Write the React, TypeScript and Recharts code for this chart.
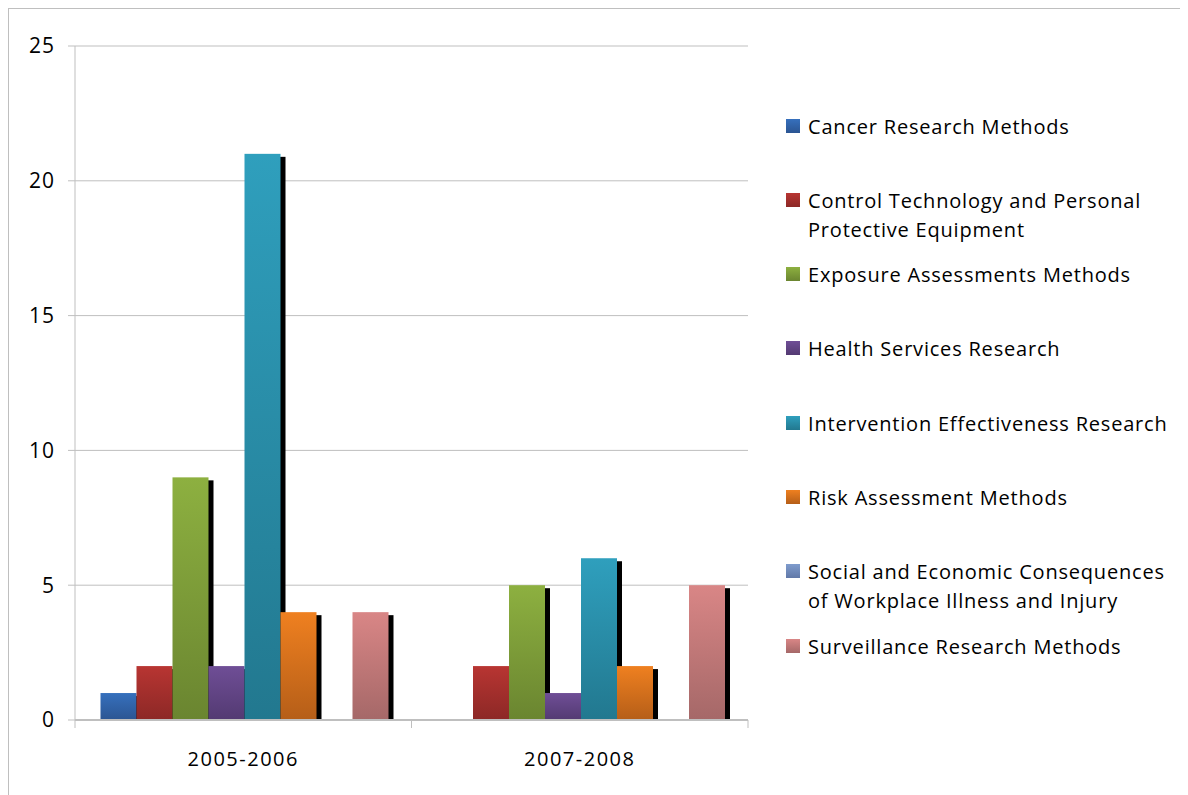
import { BarChart, Bar, XAxis, YAxis, CartesianGrid } from "recharts";

const categories = ["2005-2006", "2007-2008"];

const seriesNames = [
  "Cancer Research Methods",
  "Control Technology and Personal Protective Equipment",
  "Exposure Assessments Methods",
  "Health Services Research",
  "Intervention Effectiveness Research",
  "Risk Assessment Methods",
  "Social and Economic Consequences of Workplace Illness and Injury",
  "Surveillance Research Methods",
];

const cancer = [1, 0];
const control = [2, 2];
const exposure = [9, 5];
const health = [2, 1];
const intervention = [21, 6];
const risk = [4, 2];
const social = [0, 0];
const surveillance = [4, 5];

const yTicks = [0, 5, 10, 15, 20, 25];

// gradient stops, top -> bottom
const colors: [string, string][] = [
  ["#3670bd", "#2b5592"],
  ["#b83532", "#8c2826"],
  ["#8db040", "#6a8530"],
  ["#6f4e96", "#533a72"],
  ["#2f9fbd", "#22788f"],
  ["#ef8020", "#b55e18"],
  ["#7f9ccd", "#6179a8"],
  ["#d98686", "#a56868"],
];

const values = [cancer, control, exposure, health, intervention, risk, social, surveillance];

const data = categories.map((name, i) => {
  const row: Record<string, string | number> = { name };
  seriesNames.forEach((s, j) => {
    row[s] = values[j][i];
  });
  return row;
});

const FONT = "'Open Sans', sans-serif";
const GRID = "#bfbfbf";

function ShadowBar(props: any) {
  const { x, y, width, height, fill } = props;
  if (!height || height <= 0) return null;
  return (
    <g>
      <rect x={x + 5} y={y + 3} width={width} height={Math.max(0, height - 3)} fill="#000" />
      <rect x={x} y={y} width={width} height={height} fill={fill} />
    </g>
  );
}

function CategoryTick(props: any) {
  const { x, y, payload } = props;
  const half = payload?.offset ? payload.offset : 168.5;
  const axisY = y - 30;
  return (
    <g>
      <line x1={x - half} x2={x - half} y1={axisY} y2={axisY + 8} stroke={GRID} />
      <line x1={x + half} x2={x + half} y1={axisY} y2={axisY + 8} stroke={GRID} />
      <text x={x} y={y + 16} textAnchor="middle" fill="#000" fontSize={20} fontFamily={FONT} letterSpacing={1.5}>
        {payload.value}
      </text>
    </g>
  );
}

export default function App() {
  return (
    <div
      style={{
        position: "relative",
        width: 1177,
        height: 800,
        border: `1px solid ${GRID}`,
        background: "#fff",
        fontFamily: FONT,
      }}
    >
      <BarChart
        width={1177}
        height={786}
        data={data}
        margin={{ top: 37, right: 438, left: 0, bottom: 15 }}
        barCategoryGap={25.5}
        barGap={0}
      >
        <defs>
          {colors.map(([top, bottom], i) => (
            <linearGradient key={i} id={`grad${i}`} x1="0" y1="0" x2="0" y2="1">
              <stop offset="0%" stopColor={top} />
              <stop offset="100%" stopColor={bottom} />
            </linearGradient>
          ))}
        </defs>
        <CartesianGrid vertical={false} stroke={GRID} strokeWidth={1} />
        <YAxis
          width={66}
          domain={[0, 25]}
          ticks={yTicks}
          interval={0}
          axisLine={{ stroke: GRID }}
          tickLine={{ stroke: GRID }}
          tickSize={7}
          tickMargin={13}
          tick={{ fontSize: 21, fill: "#000", fontFamily: FONT, letterSpacing: 1 }}
        />
        <XAxis
          dataKey="name"
          height={60}
          axisLine={{ stroke: GRID, strokeWidth: 2 }}
          tickLine={false}
          tickSize={8}
          tickMargin={22}
          interval={0}
          tick={<CategoryTick />}
        />
        {seriesNames.map((s, i) => (
          <Bar
            key={s}
            dataKey={s}
            fill={`url(#grad${i})`}
            shape={<ShadowBar />}
            isAnimationActive={false}
          />
        ))}
      </BarChart>
      {seriesNames.map((s, i) => (
        <div
          key={s}
          style={{
            position: "absolute",
            left: 777,
            top: 102.5 + i * 74.3,
            width: 390,
            display: "flex",
            alignItems: "flex-start",
          }}
        >
          <div
            style={{
              width: 14,
              height: 14,
              marginTop: 7,
              flex: "0 0 auto",
              background: `linear-gradient(${colors[i][0]}, ${colors[i][1]})`,
            }}
          />
          <div
            style={{
              marginLeft: 8,
              width: 368,
              fontSize: 20,
              lineHeight: "29px",
              letterSpacing: 0.8,
              color: "#000",
            }}
          >
            {s}
          </div>
        </div>
      ))}
    </div>
  );
}
